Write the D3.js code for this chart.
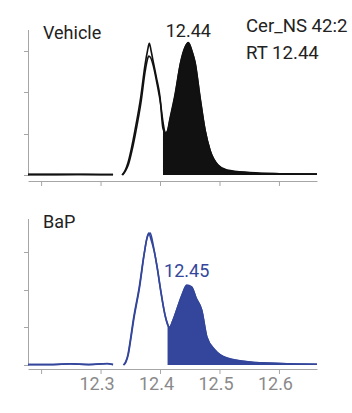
<!DOCTYPE html>
<html>
<head>
<meta charset="utf-8">
<script src="https://cdn.jsdelivr.net/npm/d3@7"></script>
<style>
  html, body { margin: 0; padding: 0; background: #fff; }
  svg text { font-family: Roboto, "Noto Sans", sans-serif; }
</style>
</head>
<body>
<svg id="chart" width="352" height="413"></svg>
<script>
// retention time ticks (min)
const rtTicks = [12.2, 12.3, 12.4, 12.5, 12.6];
const rtDomain = [12.178, 12.664];
const intTicks = [0, 1, 2, 3];

// [rt, intensity]; null breaks the trace
const vehicleA = [
  [12.178, 0.01], [12.22, 0.01], [12.26, 0.012], [12.30, 0.01], [12.321, 0.01], [12.328, null],
  [12.336, 0], [12.341, 0.1], [12.346, 0.29], [12.352, 0.65], [12.358, 1.09], [12.3676, 1.88],
  [12.3748, 2.66], [12.379, 3.0], [12.382, 3.18], [12.385, 3.0], [12.388, 2.78], [12.394, 2.35],
  [12.400, 1.88], [12.405, 1.12], [12.411, 0.97], [12.4168, 1.33], [12.425, 1.88], [12.4348, 2.71],
  [12.442, 3.07], [12.4476, 3.20], [12.4538, 2.97], [12.4588, 2.71], [12.467, 1.88], [12.4756, 1.09],
  [12.484, 0.60], [12.4975, 0.24], [12.5126, 0.12], [12.551, 0.06], [12.602, 0.03], [12.664, 0.02]
];
const vehicleB = [
  [12.178, 0.015], [12.22, 0.015], [12.26, 0.015], [12.30, 0.012], [12.321, 0.012], [12.328, null],
  [12.337, 0], [12.342, 0.1], [12.347, 0.26], [12.353, 0.6], [12.359, 1.02], [12.3685, 1.8],
  [12.375, 2.5], [12.379, 2.8], [12.381, 2.87], [12.384, 2.84], [12.389, 2.62], [12.395, 2.2],
  [12.401, 1.72], [12.405, 1.28], [12.409, 1.02], [12.412, 1.05], [12.417, 1.38], [12.425, 1.92],
  [12.435, 2.74], [12.442, 3.08], [12.4476, 3.19], [12.454, 2.98], [12.459, 2.72], [12.4675, 1.86],
  [12.476, 1.07], [12.4845, 0.58], [12.498, 0.23], [12.513, 0.11], [12.551, 0.05], [12.602, 0.03], [12.664, 0.02]
];
const bapA = [
  [12.178, 0.01], [12.22, 0.01], [12.249, 0.035], [12.28, 0.01], [12.311, 0.04], [12.321, 0.01], [12.33, null],
  [12.3383, 0], [12.342, 0.08], [12.346, 0.27], [12.350, 0.65], [12.355, 1.19], [12.3652, 2.08],
  [12.373, 2.92], [12.378, 3.35], [12.3835, 3.50], [12.387, 3.3], [12.390, 3.05], [12.395, 2.6],
  [12.400, 2.08], [12.4084, 1.33], [12.413, 1.08], [12.4156, 0.98], [12.421, 1.15], [12.428, 1.46],
  [12.437, 1.86], [12.4449, 2.12], [12.4533, 2.07], [12.4605, 1.78], [12.470, 1.46], [12.4785, 0.75],
  [12.4924, 0.40], [12.512, 0.19], [12.551, 0.08], [12.602, 0.04], [12.664, 0.02]
];
const bapB = [
  [12.178, 0.012], [12.22, 0.012], [12.249, 0.03], [12.28, 0.012], [12.311, 0.035], [12.321, 0.012], [12.33, null],
  [12.339, 0], [12.343, 0.09], [12.347, 0.3], [12.351, 0.7], [12.356, 1.22], [12.366, 2.1],
  [12.3735, 2.95], [12.3785, 3.4], [12.381, 3.50], [12.385, 3.32], [12.3905, 3.0], [12.396, 2.52],
  [12.401, 2.0], [12.409, 1.28], [12.413, 1.06], [12.416, 1.0], [12.4215, 1.17], [12.4285, 1.48],
  [12.4375, 1.87], [12.445, 2.1], [12.4535, 2.05], [12.461, 1.76], [12.4705, 1.43], [12.479, 0.73],
  [12.4925, 0.39], [12.512, 0.18], [12.551, 0.08], [12.602, 0.04], [12.664, 0.02]
];

const panels = [
  { name: "Vehicle", traces: [vehicleA, vehicleB], fillFrom: 12.405, peakLabel: "12.44",
    yMax: 3.5, top: 30, base: 175, axisY: 181, color: "#111", labelColor: "#222", labelDy: -5, tickLabels: false },
  { name: "BaP", traces: [bapA, bapB], fillFrom: 12.413, peakLabel: "12.45",
    yMax: 3.87, top: 219, base: 365, axisY: 369, color: "#33469b", labelColor: "#33469b", labelDy: -8, tickLabels: true }
];

const svg = d3.select("#chart");
const axisColor = "#a6a6a6";
const x = d3.scaleLinear().domain(rtDomain).range([28, 317]);

panels.forEach((p) => {
  const y = d3.scaleLinear().domain([0, p.yMax]).range([p.base, p.top]);
  const g = svg.append("g");

  // y axis: line + left ticks, no labels
  g.append("line")
    .attr("x1", 28.5).attr("x2", 28.5)
    .attr("y1", p.top).attr("y2", p.base + 0.5)
    .attr("stroke", axisColor);
  g.selectAll(".ytick")
    .data(intTicks)
    .join("line")
    .attr("x1", 24).attr("x2", 28.5)
    .attr("y1", (d) => Math.round(y(d)) + 0.5)
    .attr("y2", (d) => Math.round(y(d)) + 0.5)
    .attr("stroke", axisColor);

  // x axis
  const xAxis = d3.axisBottom(x)
    .tickValues(rtTicks)
    .tickSize(5)
    .tickSizeOuter(0)
    .tickFormat((d) => (p.tickLabels && d > 12.25 ? d3.format(".1f")(d) : ""));
  const ax = g.append("g")
    .attr("transform", `translate(0,${p.axisY})`)
    .call(xAxis);
  ax.select(".domain").attr("stroke", axisColor);
  ax.selectAll(".tick line").attr("stroke", axisColor);
  ax.selectAll(".tick text")
    .attr("fill", "#8a8a8a")
    .attr("font-size", 18)
    .attr("font-family", "Roboto, sans-serif")
    .attr("dx", -4)
    .attr("y", 8);

  // filled peak
  const area = d3.area()
    .defined((d) => d[1] != null && d[0] >= p.fillFrom)
    .x((d) => x(d[0]))
    .y0(y(0))
    .y1((d) => y(d[1]))
    .curve(d3.curveMonotoneX);
  p.traces.forEach((t) => {
    g.append("path").attr("d", area(t)).attr("fill", p.color);
  });

  // traces
  const line = d3.line()
    .defined((d) => d[1] != null)
    .x((d) => x(d[0]))
    .y((d) => y(d[1]))
    .curve(d3.curveMonotoneX);
  p.traces.forEach((t) => {
    g.append("path")
      .attr("d", line(t))
      .attr("fill", "none")
      .attr("stroke", p.color)
      .attr("stroke-width", 1.6)
      .attr("stroke-linejoin", "round");
  });

  // peak label above the apex of the filled region
  const apex = d3.greatest(
    p.traces.flat().filter((d) => d[1] != null && d[0] >= p.fillFrom),
    (d) => d[1]
  );
  g.append("text")
    .attr("x", x(apex[0]))
    .attr("y", y(apex[1]) + p.labelDy)
    .attr("text-anchor", "middle")
    .attr("font-size", 18)
    .attr("fill", p.labelColor)
    .text(p.peakLabel);

  g.append("text")
    .attr("x", 43)
    .attr("y", p.top + 9)
    .attr("font-size", 18)
    .attr("fill", "#222")
    .text(p.name);
});

svg.append("text").attr("x", 246).attr("y", 32)
  .attr("font-size", 18.6).attr("fill", "#222").text("Cer_NS 42:2");
svg.append("text").attr("x", 246).attr("y", 59)
  .attr("font-size", 18.6).attr("fill", "#222").text("RT 12.44");
</script>
</body>
</html>
